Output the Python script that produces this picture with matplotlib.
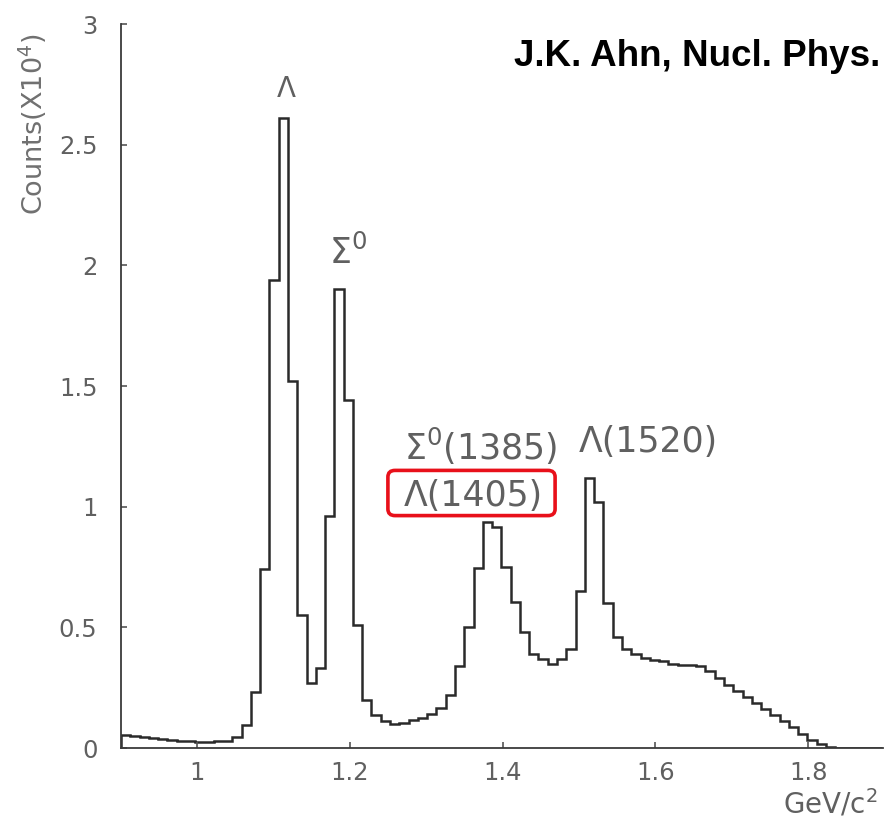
import numpy as np
import matplotlib
matplotlib.use("Agg")
import matplotlib.pyplot as plt
from matplotlib.patches import FancyBboxPatch

# ---- data (counts in units of 10^4) ----
bin_lo = 0.90
bin_width = 0.01215
counts = [0.052, 0.048, 0.045, 0.042, 0.038, 0.035, 0.031, 0.028, 0.026, 0.026, 0.028, 0.030,
          0.045, 0.095, 0.23, 0.74, 1.94, 2.61, 1.52, 0.55, 0.27, 0.33, 0.96, 1.90, 1.44, 0.51,
          0.20, 0.137, 0.11, 0.10, 0.105, 0.115, 0.125, 0.14, 0.165, 0.22, 0.34, 0.50, 0.745,
          0.935, 0.915, 0.75, 0.605, 0.48, 0.39, 0.37, 0.35, 0.37, 0.41, 0.65, 1.12, 1.02, 0.60,
          0.46, 0.41, 0.39, 0.375, 0.365, 0.36, 0.35, 0.345, 0.345, 0.34, 0.32, 0.29, 0.26,
          0.235, 0.21, 0.185, 0.16, 0.135, 0.11, 0.085, 0.06, 0.035, 0.015, 0.005, 0, 0, 0, 0, 0]
xticks = [1.0, 1.2, 1.4, 1.6, 1.8]
xtick_labels = ["1", "1.2", "1.4", "1.6", "1.8"]
yticks = [0, 0.5, 1, 1.5, 2, 2.5, 3]
ytick_labels = ["0", "0.5", "1", "1.5", "2", "2.5", "3"]

peak_labels = ["Λ", "Σ$^{0}$", "Σ$^{0}$(1385)", "Λ(1520)", "Λ(1405)"]
# (x, y) in data coordinates, left edge / vertical centre
peak_pos = [(1.104, 2.73), (1.172, 2.05), (1.270, 1.25), (1.500, 1.27), (1.270, 1.045)]

W, H = 887, 824
fig = plt.figure(figsize=(W / 100, H / 100), dpi=100)
ax = fig.add_axes([121 / W, (H - 748) / H, (883 - 121) / W, (748 - 24) / H])

edges = bin_lo + bin_width * np.arange(len(counts) + 1)
ax.stairs(counts, edges, color="#2a2a2a", lw=1.8)

gray = "#606060"
ax.set_xlim(0.90, 1.898)
ax.set_ylim(0, 3.0)
ax.set_xticks(xticks)
ax.set_xticklabels(xtick_labels)
ax.set_yticks(yticks)
ax.set_yticklabels(ytick_labels)
for s in ["top", "right"]:
    ax.spines[s].set_visible(False)
for s in ["left", "bottom"]:
    ax.spines[s].set_color("#3a3a3a")
    ax.spines[s].set_linewidth(1.3)
ax.tick_params(axis="both", direction="in", length=4, width=1.2, color="#555555",
               labelsize=17.5, labelcolor=gray)
ax.tick_params(axis="y", pad=17)
ax.tick_params(axis="x", pad=9)

for lab, (x, y) in zip(peak_labels, peak_pos):
    ax.text(x, y, lab, fontsize=25 if len(lab) > 3 else 20, color=gray,
            ha="left", va="center")

# red rounded box around Λ(1405)
box = FancyBboxPatch((395 / W, 1 - 509 / H), (548 - 395) / W, (509 - 477) / H,
                     boxstyle="round,pad=0.008,rounding_size=0.008",
                     transform=fig.transFigure, fill=False, edgecolor="#e8101a", lw=2.6)
fig.add_artist(box)

fig.text(33 / W, 1 - 124 / H, "Counts(X10$^{4}$)", rotation=90, ha="center", va="center",
         fontsize=19.5, color="#707070")
fig.text(878 / W, 1 - 804 / H, "GeV/c$^{2}$", ha="right", va="center",
         fontsize=20, color=gray)
fig.text(880 / W, 1 - 57 / H, "J.K. Ahn, Nucl. Phys.", ha="right", va="center",
         fontsize=26.5, fontweight="bold", family="Liberation Sans", color="black")

fig.savefig("out.png", dpi=100)
